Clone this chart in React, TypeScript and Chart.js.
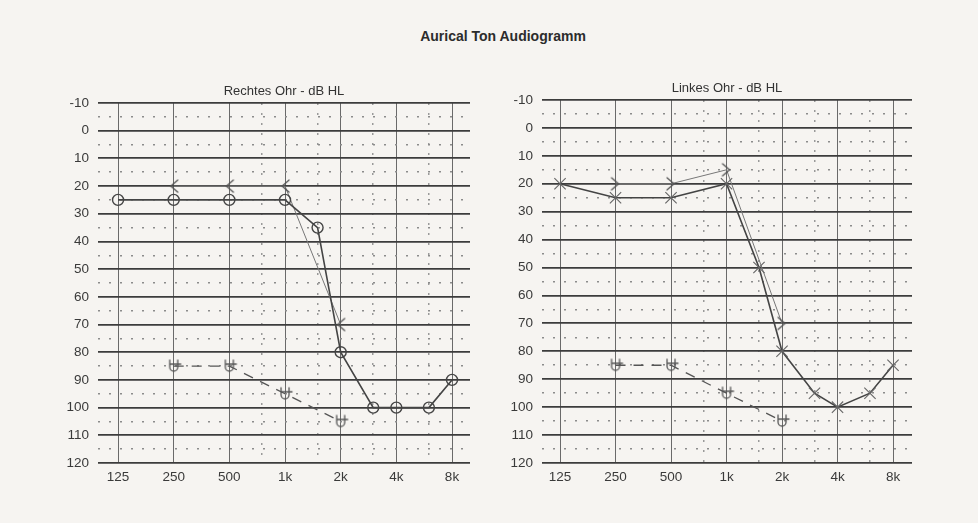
import React, { useEffect, useRef } from "react";
import { Chart, registerables } from "chart.js";

Chart.register(...registerables);

// ---- axis data ----
const FREQ_TICKS = [125, 250, 500, 1000, 2000, 4000, 8000];
const FREQ_TICK_LABELS = ["125", "250", "500", "1k", "2k", "4k", "8k"];
const FREQ_MINOR = [750, 1500, 3000, 6000];
const DB_MIN = -10;
const DB_MAX = 120;

// ---- right ear (Rechtes Ohr) ----
const RIGHT_AIR_FREQ = [125, 250, 500, 1000, 1500, 2000, 3000, 4000, 6000, 8000];
const RIGHT_AIR_DB = [25, 25, 25, 25, 35, 80, 100, 100, 100, 90];
const RIGHT_BONE_FREQ = [250, 500, 1000, 2000];
const RIGHT_BONE_DB = [20, 20, 20, 70];
const RIGHT_U_FREQ = [250, 500, 1000, 2000];
const RIGHT_U_DB = [85, 85, 95, 105];

// ---- left ear (Linkes Ohr) ----
const LEFT_AIR_FREQ = [125, 250, 500, 1000, 1500, 2000, 3000, 4000, 6000, 8000];
const LEFT_AIR_DB = [20, 25, 25, 20, 50, 80, 95, 100, 95, 85];
const LEFT_BONE_FREQ = [250, 500, 1000, 2000];
const LEFT_BONE_DB = [20, 20, 15, 70];
const LEFT_U_FREQ = [250, 500, 1000, 2000];
const LEFT_U_DB = [85, 85, 95, 105];

const FONT = "'Liberation Sans', Arial, Helvetica, sans-serif";
const BG = "#f6f4f1";
const INK = "#444";

function makeMarker(kind: string): HTMLCanvasElement {
  const c = document.createElement("canvas");
  c.width = 18;
  c.height = 18;
  const g = c.getContext("2d")!;
  g.strokeStyle = "#555";
  g.lineWidth = 1.3;
  g.lineCap = "round";
  g.beginPath();
  if (kind === "<") {
    g.moveTo(13, 3);
    g.lineTo(6, 9);
    g.lineTo(13, 15);
  } else if (kind === ">") {
    g.moveTo(5, 3);
    g.lineTo(12, 9);
    g.lineTo(5, 15);
  } else if (kind === "U") {
    g.moveTo(5, 3);
    g.lineTo(5, 10);
    g.arc(9, 10, 4, Math.PI, 0, true);
    g.lineTo(13, 3);
    g.moveTo(6, 7);
    g.lineTo(16, 7);
  }
  g.stroke();
  return c;
}

function pts(f: number[], v: number[]) {
  return f.map((x, i) => ({ x, y: v[i] }));
}

type Props = {
  left: number;
  top: number;
  width: number;
  height: number;
  yWidth: number;
  pad: { top: number; right: number; bottom: number; left: number };
  title: string;
  xMin: number;
  xMax: number;
  airF: number[];
  airV: number[];
  airStyle: string;
  boneF: number[];
  boneV: number[];
  boneKind: string;
  uF: number[];
  uV: number[];
};

function Audiogram(p: Props) {
  const ref = useRef<HTMLCanvasElement>(null);
  useEffect(() => {
    const boneImg = makeMarker(p.boneKind);
    const uImg = makeMarker("U");
    const isCircle = p.airStyle === "circle";
    const chart = new Chart(ref.current!, {
      type: "line",
      data: {
        datasets: [
          {
            label: "Luftleitung",
            data: pts(p.airF, p.airV),
            xAxisID: "x",
            yAxisID: "y",
            borderColor: INK,
            borderWidth: 1.6,
            pointStyle: p.airStyle as any,
            pointRadius: isCircle ? 5.5 : 8,
            pointBorderWidth: isCircle ? 1.4 : 1.1,
            pointBorderColor: isCircle ? INK : "#666",
            pointBackgroundColor: "transparent",
            tension: 0,
            fill: false,
          },
          {
            label: "Knochenleitung",
            data: pts(p.boneF, p.boneV),
            xAxisID: "x",
            yAxisID: "y",
            borderColor: "#777",
            borderWidth: 1,
            pointStyle: boneImg as any,
            pointRadius: 6,
            tension: 0,
            fill: false,
          },
          {
            label: "U",
            data: pts(p.uF, p.uV),
            xAxisID: "x",
            yAxisID: "y",
            borderColor: "#555",
            borderWidth: 1.3,
            borderDash: [10, 8],
            pointStyle: uImg as any,
            pointRadius: 7,
            tension: 0,
            fill: false,
          },
        ],
      },
      options: {
        animation: false,
        responsive: false,
        maintainAspectRatio: false,
        layout: { padding: p.pad },
        plugins: {
          legend: { display: false },
          tooltip: { enabled: false },
          title: {
            display: true,
            text: p.title,
            fullSize: false,
            color: "#333",
            font: { family: FONT, size: 13, weight: "normal", lineHeight: 1.2 },
            padding: { top: 0, bottom: 3.4 },
          },
        },
        scales: {
          x: {
            type: "logarithmic",
            position: "bottom",
            min: p.xMin,
            max: p.xMax,
            afterBuildTicks: (s: any) => {
              s.ticks = FREQ_TICKS.map((v) => ({ value: v }));
            },
            afterFit: (s: any) => {
              s.height = 30;
              s.paddingLeft = 0;
              s.paddingRight = 0;
            },
            grid: { color: "#6a6a6a", lineWidth: 1, drawTicks: false },
            border: { display: false },
            ticks: {
              autoSkip: false,
              maxRotation: 0,
              minRotation: 0,
              padding: 6,
              color: "#3a3a3a",
              font: { family: FONT, size: 13.5 },
              callback: (_v: any, i: number) => FREQ_TICK_LABELS[i],
            },
          },
          x2: {
            type: "logarithmic",
            position: "bottom",
            min: p.xMin,
            max: p.xMax,
            afterBuildTicks: (s: any) => {
              s.ticks = FREQ_MINOR.map((v) => ({ value: v }));
            },
            afterFit: (s: any) => {
              s.height = 0;
              s.paddingLeft = 0;
              s.paddingRight = 0;
            },
            grid: { color: "#9a9a9a", lineWidth: 1.5, drawTicks: false },
            border: { display: false, dash: [2, 8] },
            ticks: { display: false },
          },
          y: {
            type: "linear",
            position: "left",
            reverse: true,
            min: DB_MIN,
            max: DB_MAX,
            afterFit: (s: any) => {
              s.width = p.yWidth;
              s.paddingTop = 0;
              s.paddingBottom = 0;
            },
            grid: { color: "#3c3c3c", lineWidth: 1.8, drawTicks: false },
            border: { display: false },
            ticks: {
              stepSize: 10,
              padding: 9,
              color: "#3a3a3a",
              font: { family: FONT, size: 13.5 },
            },
          },
          y2: {
            type: "linear",
            position: "left",
            reverse: true,
            min: DB_MIN,
            max: DB_MAX,
            afterFit: (s: any) => {
              s.width = 0;
              s.paddingTop = 0;
              s.paddingBottom = 0;
            },
            grid: {
              color: (ctx: any) =>
                ctx.tick && Math.abs(ctx.tick.value % 10) !== 0 ? "#8c8c8c" : "transparent",
              lineWidth: 1.6,
              drawTicks: false,
            },
            border: { display: false, dash: [2, 9] },
            ticks: { display: false, stepSize: 5 },
          },
        },
      } as any,
    });
    return () => chart.destroy();
  }, []);
  return (
    <canvas
      ref={ref}
      width={p.width}
      height={p.height}
      style={{ position: "absolute", left: p.left, top: p.top, width: p.width, height: p.height }}
    />
  );
}

export default function App() {
  return (
    <div
      style={{
        position: "fixed",
        left: 0,
        top: 0,
        width: 978,
        height: 523,
        background: BG,
        overflow: "hidden",
      }}
    >
      <div
        style={{
          position: "absolute",
          left: 353,
          width: 300,
          top: 28,
          textAlign: "center",
          fontFamily: FONT,
          fontWeight: "bold",
          fontSize: 14,
          color: "#2c2c2c",
        }}
      >
        Aurical Ton Audiogramm
      </div>
      <Audiogram
        left={30}
        top={70}
        width={460}
        height={445}
        yWidth={68}
        pad={{ top: 14, right: 20, bottom: 22, left: 0 }}
        title="Rechtes Ohr - dB HL"
        xMin={97.4}
        xMax={10010}
        airF={RIGHT_AIR_FREQ}
        airV={RIGHT_AIR_DB}
        airStyle="circle"
        boneF={RIGHT_BONE_FREQ}
        boneV={RIGHT_BONE_DB}
        boneKind="<"
        uF={RIGHT_U_FREQ}
        uV={RIGHT_U_DB}
      />
      <Audiogram
        left={490}
        top={70}
        width={450}
        height={445}
        yWidth={52}
        pad={{ top: 11, right: 28, bottom: 22, left: 0 }}
        title="Linkes Ohr - dB HL"
        xMin={99.8}
        xMax={10141}
        airF={LEFT_AIR_FREQ}
        airV={LEFT_AIR_DB}
        airStyle="crossRot"
        boneF={LEFT_BONE_FREQ}
        boneV={LEFT_BONE_DB}
        boneKind=">"
        uF={LEFT_U_FREQ}
        uV={LEFT_U_DB}
      />
    </div>
  );
}
